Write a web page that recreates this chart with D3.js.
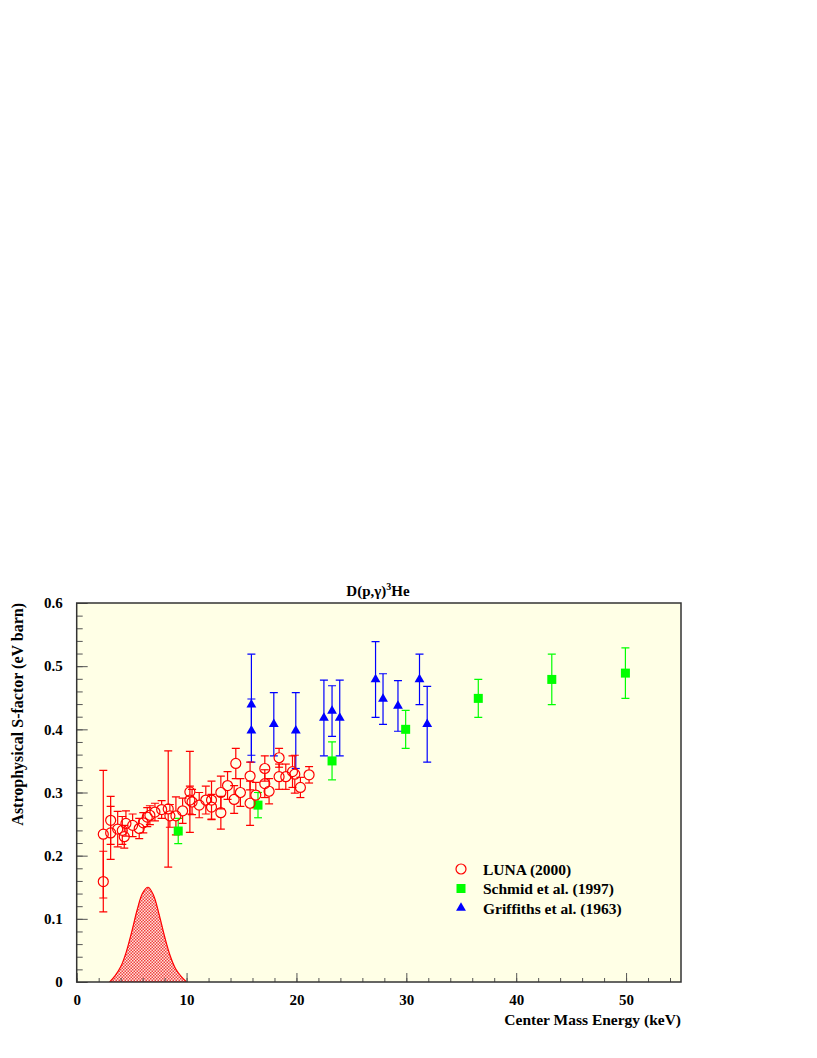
<!DOCTYPE html>
<html>
<head>
<meta charset="utf-8">
<script src="https://cdn.jsdelivr.net/npm/d3@7"></script>
<style>
  body { margin: 0; background: #fff; }
  svg { display: block; }
  text { font-family: "Liberation Serif", "Times New Roman", serif; font-weight: bold; }
</style>
</head>
<body>
<svg></svg>
<script>
// LUNA (2000): energy (keV), S-factor (eV barn), error
const lunaE = [2.42, 2.42, 3.09, 3.09, 3.73, 4.15, 4.33, 4.48, 5.09, 5.69, 6.06, 6.42, 6.66, 7.12, 7.73,
    8.33, 8.48, 9.03, 9.64, 10.3, 10.3, 10.5, 11.15, 11.75, 12.27, 12.27, 13.12, 13.12, 13.73, 14.33,
    14.48, 14.9, 15.78, 15.78, 16.3, 17.12, 17.12, 17.51, 18.42, 18.42, 19.03, 19.64, 19.85, 20.36, 21.15];
const lunaS = [0.234, 0.159, 0.256, 0.236, 0.242, 0.240, 0.230, 0.251, 0.248, 0.243, 0.252, 0.261, 0.264, 0.269, 0.273,
    0.274, 0.263, 0.263, 0.271, 0.301, 0.288, 0.285, 0.280, 0.288, 0.288, 0.277, 0.300, 0.268, 0.311, 0.289,
    0.346, 0.300, 0.326, 0.283, 0.296, 0.338, 0.314, 0.302, 0.355, 0.325, 0.325, 0.333, 0.329, 0.308, 0.328];
const lunaErr = [0.101, 0.048, 0.038, 0.042, 0.028, 0.022, 0.018, 0.020, 0.018, 0.016, 0.016, 0.015, 0.015, 0.014, 0.014,
    0.092, 0.018, 0.030, 0.020, 0.064, 0.022, 0.020, 0.020, 0.022, 0.030, 0.020, 0.026, 0.026, 0.022, 0.022,
    0.024, 0.022, 0.022, 0.035, 0.020, 0.020, 0.022, 0.020, 0.015, 0.020, 0.020, 0.025, 0.030, 0.016, 0.013];

// Schmid et al. (1997)
const schmidE = [9.24, 16.5, 23.24, 29.94, 36.55, 43.24, 49.94];
const schmidS = [0.239, 0.280, 0.350, 0.400, 0.449, 0.479, 0.489];
const schmidErr = [0.02, 0.02, 0.03, 0.03, 0.03, 0.04, 0.04];

// Griffiths et al. (1963)
const griffE = [15.9, 15.9, 17.94, 19.94, 22.5, 23.24, 23.94, 27.2, 27.88, 29.24, 31.2, 31.9];
const griffS = [0.439, 0.398, 0.408, 0.398, 0.418, 0.429, 0.418, 0.479, 0.448, 0.437, 0.479, 0.408];
const griffErr = [0.08, 0.05, 0.05, 0.06, 0.06, 0.04, 0.06, 0.06, 0.04, 0.04, 0.04, 0.06];

// Gamow peak (arbitrary units)
const peakE = [3.0, 3.5, 4.0, 4.5, 5.0, 5.5, 6.0, 6.5, 7.0, 7.5, 8.0, 8.5, 9.0, 9.5, 10.0];
const peakS = [0.0, 0.010, 0.024, 0.047, 0.079, 0.114, 0.141, 0.150, 0.137, 0.107, 0.072, 0.042, 0.021, 0.009, 0.0];

const xTicks = [0, 10, 20, 30, 40, 50];
const yTicks = [0, 0.1, 0.2, 0.3, 0.4, 0.5, 0.6];

const W = 817, H = 1058;
const mLeft = 76.7, mRight = 681, mTop = 603, mBottom = 982;

const svg = d3.select("svg").attr("width", W).attr("height", H);

const x = d3.scaleLinear().domain([0, 55]).range([mLeft, mRight]);
const y = d3.scaleLinear().domain([0, 0.6]).range([mBottom, mTop]);

// checker hatch for the peak
const defs = svg.append("defs");
const pat = defs.append("pattern")
    .attr("id", "hatch")
    .attr("width", 3).attr("height", 3)
    .attr("patternUnits", "userSpaceOnUse");
pat.append("rect").attr("width", 3).attr("height", 3).attr("fill", "#ffe4dc");
pat.append("rect").attr("width", 1.5).attr("height", 1.5).attr("fill", "#f04040");
pat.append("rect").attr("x", 1.5).attr("y", 1.5).attr("width", 1.5).attr("height", 1.5).attr("fill", "#f04040");

defs.append("clipPath").attr("id", "clip")
    .append("rect").attr("x", mLeft).attr("y", mTop).attr("width", mRight - mLeft).attr("height", mBottom - mTop);

// frame background
svg.append("rect")
    .attr("x", mLeft).attr("y", mTop)
    .attr("width", mRight - mLeft).attr("height", mBottom - mTop)
    .attr("fill", "#ffffe6");

const plot = svg.append("g").attr("clip-path", "url(#clip)");

// peak
const peak = peakE.map((e, i) => [e, peakS[i]]);
plot.append("path")
    .datum(peak)
    .attr("d", d3.area().x(d => x(d[0])).y0(y(0)).y1(d => y(d[1])).curve(d3.curveCatmullRom))
    .attr("fill", "url(#hatch)")
    .attr("stroke", "red")
    .attr("stroke-width", 1.2);

// error bars
function errorBars(E, S, Err, color, gap) {
    const g = plot.append("g").attr("stroke", color).attr("stroke-width", 1.2).attr("fill", "none");
    E.forEach((e, i) => {
        const cx = x(e), cy = y(S[i]);
        const yt = y(S[i] + Err[i]), yb = y(S[i] - Err[i]);
        if (cy - gap > yt) g.append("line").attr("x1", cx).attr("x2", cx).attr("y1", yt).attr("y2", cy - gap);
        if (cy + gap < yb) g.append("line").attr("x1", cx).attr("x2", cx).attr("y1", cy + gap).attr("y2", yb);
        g.append("line").attr("x1", cx - 4).attr("x2", cx + 4).attr("y1", yt).attr("y2", yt);
        g.append("line").attr("x1", cx - 4).attr("x2", cx + 4).attr("y1", yb).attr("y2", yb);
    });
}

errorBars(schmidE, schmidS, schmidErr, "#00ff00", 0);
errorBars(griffE, griffS, griffErr, "#0000ff", 0);
errorBars(lunaE, lunaS, lunaErr, "red", 5);

// markers
plot.append("g").selectAll("rect")
    .data(schmidE.map((e, i) => [e, schmidS[i]]))
    .enter().append("rect")
    .attr("x", d => x(d[0]) - 4.5).attr("y", d => y(d[1]) - 4.5)
    .attr("width", 9).attr("height", 9)
    .attr("fill", "#00ff00");

const tri = d3.symbol().type(d3.symbolTriangle).size(42);
plot.append("g").selectAll("path")
    .data(griffE.map((e, i) => [e, griffS[i]]))
    .enter().append("path")
    .attr("d", tri)
    .attr("transform", d => `translate(${x(d[0])},${y(d[1])})`)
    .attr("fill", "#0000ff");

plot.append("g").selectAll("circle")
    .data(lunaE.map((e, i) => [e, lunaS[i]]))
    .enter().append("circle")
    .attr("cx", d => x(d[0])).attr("cy", d => y(d[1]))
    .attr("r", 5)
    .attr("fill", "none")
    .attr("stroke", "red")
    .attr("stroke-width", 1.2);

// axes
const xMajor = svg.append("g").attr("transform", `translate(0,${mBottom})`)
    .call(d3.axisBottom(x).tickValues(xTicks).tickSize(-9).tickPadding(12).tickFormat(d3.format("d")));
const xMinor = svg.append("g").attr("transform", `translate(0,${mBottom})`)
    .call(d3.axisBottom(x).tickValues(d3.range(0, 55, 2)).tickSize(-4).tickFormat(""));
const yMajor = svg.append("g").attr("transform", `translate(${mLeft},0)`)
    .call(d3.axisLeft(y).tickValues(yTicks).tickSize(-11).tickPadding(14)
        .tickFormat(d => d === 0 ? "0" : d3.format(".1f")(d)));
const yMinor = svg.append("g").attr("transform", `translate(${mLeft},0)`)
    .call(d3.axisLeft(y).tickValues(d3.range(0, 0.6, 0.02)).tickSize(-6).tickFormat(""));

[xMajor, xMinor, yMajor, yMinor].forEach(a => {
    a.select(".domain").remove();
    a.selectAll(".tick line").attr("stroke", "#555").attr("stroke-width", 1);
    a.selectAll("text").attr("font-size", 15).attr("fill", "#000")
        .attr("font-family", "Liberation Serif, serif").attr("font-weight", "bold");
});

// frame
svg.append("rect")
    .attr("x", mLeft).attr("y", mTop)
    .attr("width", mRight - mLeft).attr("height", mBottom - mTop)
    .attr("fill", "none")
    .attr("stroke", "#333")
    .attr("stroke-width", 1.5);

// title
const title = svg.append("text")
    .attr("x", 378).attr("y", 596)
    .attr("text-anchor", "middle")
    .attr("font-size", 15);
title.append("tspan").text("D(p,\u03b3)");
title.append("tspan").attr("dy", -6).attr("font-size", 10).text("3");
title.append("tspan").attr("dy", 6).text("He");

// axis titles
svg.append("text")
    .attr("x", mRight).attr("y", 1025)
    .attr("text-anchor", "end")
    .attr("font-size", 15.5)
    .text("Center Mass Energy (keV)");

svg.append("text")
    .attr("transform", `translate(23,${mTop}) rotate(-90)`)
    .attr("text-anchor", "end")
    .attr("font-size", 16)
    .text("Astrophysical S-factor (eV barn)");

// legend
const legend = svg.append("g");
const legItems = ["LUNA (2000)", "Schmid et al. (1997)", "Griffiths et al. (1963)"];
const legY = [869, 888.5, 908];
legItems.forEach((t, i) => {
    const lx = 461, ly = legY[i];
    if (i === 0) legend.append("circle").attr("cx", lx).attr("cy", ly).attr("r", 5)
        .attr("fill", "none").attr("stroke", "red").attr("stroke-width", 1.2);
    if (i === 1) legend.append("rect").attr("x", lx - 4.5).attr("y", ly - 4.5)
        .attr("width", 9).attr("height", 9).attr("fill", "#00ff00");
    if (i === 2) legend.append("path").attr("d", tri).attr("transform", `translate(${lx},${ly})`)
        .attr("fill", "#0000ff");
    legend.append("text").attr("x", 483).attr("y", ly + 5.5)
        .attr("font-size", 15.5).text(t);
});
</script>
</body>
</html>
